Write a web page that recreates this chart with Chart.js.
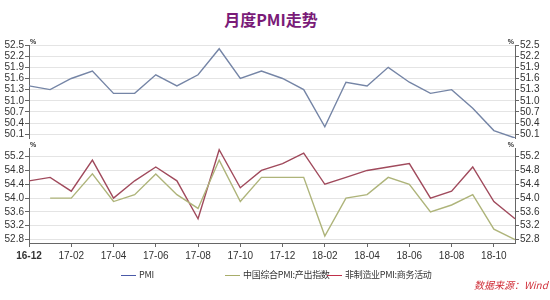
<!DOCTYPE html>
<html>
<head>
<meta charset="utf-8">
<script src="https://cdn.jsdelivr.net/npm/chart.js@4/dist/chart.umd.min.js"></script>
<style>
  body { margin: 0; background: #fff; }
  #wrap { position: relative; width: 550px; height: 300px; overflow: hidden; font-family: "Liberation Sans", Arial, sans-serif; }
  #title { position: absolute; top: 7px; left: 0; width: 542px; text-align: center; font: bold 16px "Noto Sans CJK SC", sans-serif; color: #7a1b78; }
  canvas { position: absolute; left: 0; }
  #cTop { top: 0; }
  #cBot { top: 140px; }
  .lg { position: absolute; top: 268px; font: 9px "Noto Sans CJK SC", sans-serif; color: #333; white-space: nowrap; letter-spacing: -0.3px; }
  .lg i { display: inline-block; width: 15px; height: 0; border-top: 1.5px solid; vertical-align: middle; margin-right: 3px; }
  #src { position: absolute; top: 277px; left: 474px; font: italic 10px "Noto Sans CJK SC", sans-serif; color: #d0303a; }
</style>
</head>
<body>
<div id="wrap">
  <div id="title">月度PMI走势</div>
  <canvas id="cTop" width="550" height="145"></canvas>
  <canvas id="cBot" width="550" height="130"></canvas>
  <div class="lg" style="left:121px"><i style="color:#4a5aa8"></i>PMI</div>
  <div class="lg" style="left:225px"><i style="color:#a8ad6a"></i>中国综合PMI:产出指数</div>
  <div class="lg" style="left:327px"><i style="color:#c0304a"></i>非制造业PMI:商务活动</div>
  <div id="src">数据来源：Wind</div>
</div>
<script>
// --- DATA ---
const months = ['16-12','17-01','17-02','17-03','17-04','17-05','17-06','17-07','17-08','17-09','17-10','17-11',
                '17-12','18-01','18-02','18-03','18-04','18-05','18-06','18-07','18-08','18-09','18-10','18-11'];
const pmi = [51.4,51.3,51.6,51.8,51.2,51.2,51.7,51.4,51.7,52.4,51.6,51.8,51.6,51.3,50.3,51.5,51.4,51.9,51.5,51.2,51.3,50.8,50.2,50.0];
const compositeOutput = [null,54.0,54.0,54.7,53.9,54.1,54.7,54.1,53.7,55.1,53.9,54.6,54.6,54.6,52.9,54.0,54.1,54.6,54.4,53.6,53.8,54.1,53.1,52.8];
const nonMfgBusiness = [54.5,54.6,54.2,55.1,54.0,54.5,54.9,54.5,53.4,55.4,54.3,54.8,55.0,55.3,54.4,54.6,54.8,54.9,55.0,54.0,54.2,54.9,53.9,53.4];
const topTicks = [50.1,50.4,50.7,51.0,51.3,51.6,51.9,52.2,52.5];
const bottomTicks = [52.8,53.2,53.6,54.0,54.4,54.8,55.2];

// --- helpers ---
const tickFont = { family: 'Liberation Sans', size: 10 };
const gridColor = '#e4e4e4';
const axisColor = '#666';

const yAxis = (pos, min, max, ticks, onArea) => ({
    position: pos, min, max,
    afterBuildTicks: s => { s.ticks = ticks.map(v => ({ value: v })); },
    afterFit: s => { s.width = pos === 'left' ? 29 : 35; },
    border: { display: true, color: axisColor, width: 1 },
    grid: { drawOnChartArea: onArea, color: gridColor, tickColor: axisColor, tickLength: 4 },
    ticks: { font: tickFont, color: '#333', padding: 1, autoSkip: false, callback: v => v.toFixed(1) }
});

// "%" unit marks on top of both y axes
const pctPlugin = {
    id: 'pct',
    afterDraw(chart) {
        const { ctx, chartArea: a } = chart;
        ctx.save();
        ctx.font = 'bold 7px "Liberation Sans"';
        ctx.fillStyle = '#333';
        ctx.textBaseline = 'bottom';
        ctx.textAlign = 'left';
        ctx.fillText('%', a.left + 1, a.top + 1);
        ctx.textAlign = 'right';
        ctx.fillText('%', a.right - 1, a.top + 1);
        ctx.restore();
    }
};

const lineDs = (label, data, color, axis) => ({
    label, data, borderColor: color, borderWidth: 1.4, pointRadius: 0,
    tension: 0, fill: false, spanGaps: false, yAxisID: axis
});

// --- TOP PANEL ---
new Chart(document.getElementById('cTop'), {
    type: 'line',
    data: { labels: months, datasets: [lineDs('PMI', pmi, '#7585a6', 'y')] },
    options: {
        responsive: false, animation: false,
        layout: { padding: { top: 45, bottom: 7, left: 0, right: 0 } },
        plugins: { legend: { display: false }, tooltip: { enabled: false } },
        scales: {
            x: { display: false, offset: false },
            y: yAxis('left', 50.0, 52.5, topTicks, true),
            yR: yAxis('right', 50.0, 52.5, topTicks, false)
        }
    },
    plugins: [pctPlugin]
});

// --- BOTTOM PANEL ---
new Chart(document.getElementById('cBot'), {
    type: 'line',
    data: {
        labels: months,
        datasets: [
            lineDs('中国综合PMI:产出指数', compositeOutput, '#aeb47a', 'y'),
            lineDs('非制造业PMI:商务活动', nonMfgBusiness, '#a04a5c', 'y')
        ]
    },
    options: {
        responsive: false, animation: false,
        layout: { padding: { top: 8, bottom: 0, left: 0, right: 0 } },
        plugins: { legend: { display: false }, tooltip: { enabled: false } },
        scales: {
            x: {
                offset: false,
                afterFit: s => { s.height = 27; },
                border: { display: true, color: axisColor },
                grid: { drawOnChartArea: false, tickLength: 4,
                        tickColor: c => c.index % 2 === 0 ? axisColor : 'rgba(0,0,0,0)' },
                ticks: {
                    autoSkip: false, maxRotation: 0, padding: 3, color: '#333',
                    font: c => ({ family: 'Liberation Sans', size: 10, weight: c.index === 0 ? 'bold' : 'normal' }),
                    callback: (v, i) => i % 2 === 0 ? months[i] : ''
                }
            },
            y: yAxis('left', 52.7, 55.45, bottomTicks, true),
            yR: yAxis('right', 52.7, 55.45, bottomTicks, false)
        }
    },
    plugins: [pctPlugin]
});
</script>
</body>
</html>
